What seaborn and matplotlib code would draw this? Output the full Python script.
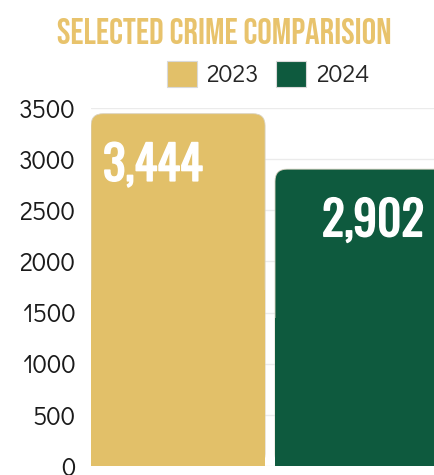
import matplotlib
matplotlib.use("Agg")

import pandas as pd
import seaborn as sns
import matplotlib.pyplot as plt
import matplotlib.patheffects as pe
from matplotlib.patches import FancyBboxPatch, Rectangle

# ===============================
# data
# ===============================
years = ['2023', '2024']
crimes = [3444, 2902]
bar_colors = ['#E2C069', '#0E5A3E']
y_ticks = [0, 500, 1000, 1500, 2000, 2500, 3000, 3500]

df = pd.DataFrame({'year': years, 'crimes': crimes})

sns.set_style('white')
plt.rcParams['font.family'] = ['Didact Gothic', 'DejaVu Sans']

fig = plt.figure(figsize=(4.34, 4.75), dpi=100)
ax = fig.add_axes([0.2097, 0.019, 0.7903, 0.7537])

sns.barplot(
    ax=ax,
    data=df,
    x='year',
    y='crimes',
    hue='year',
    palette=bar_colors,
    width=0.946,
    legend=False,
)

ax.set_ylim(0, 3500)
ax.set_xlim(-0.473, 1.391)
ax.set_yticks(y_ticks)
ax.set_yticklabels([str(t) for t in y_ticks], fontsize=18.5, color='#1a1a1a')
ax.tick_params(axis='y', length=0, pad=11)
ax.set_xticks([])
ax.set_xlabel('')
ax.set_ylabel('')
for s in ax.spines.values():
    s.set_visible(False)
ax.grid(axis='y', color='#ebebeb', linewidth=1)
ax.set_axisbelow(True)

# rounded top corners: redraw each bar
radius = 0.065
aspect = 1800
label_offsets = [0.065, 0.255]
handles = []
for patch, col, val, off in zip(ax.patches, bar_colors, crimes, label_offsets):
    x0, w, h = patch.get_x(), patch.get_width(), patch.get_height()
    patch.set_visible(False)
    rb = FancyBboxPatch((x0, 0), w, h,
                        boxstyle=f'round,pad=0,rounding_size={radius}',
                        mutation_aspect=aspect,
                        facecolor=col, edgecolor='#d9d2c0', linewidth=0.6,
                        zorder=3)
    ax.add_patch(rb)
    ax.add_patch(Rectangle((x0, 0), w, h * 0.5, facecolor=col,
                           edgecolor='none', zorder=3))
    ax.text(x0 + off, h - 275, f'{val:,}',
            fontsize=34, color='white',
            family='Oswald', ha='left', va='top', zorder=4,
            path_effects=[pe.withStroke(linewidth=1.1, foreground='white')])
    handles.append(Rectangle((0, 0), 1, 1, facecolor=col, edgecolor='#d9d9d9',
                             linewidth=0.8))

fig.legend(handles, years, loc='center', bbox_to_anchor=(0.618, 0.844),
           ncol=2, frameon=False, fontsize=18, handlelength=1.2,
           handleheight=1.2, handletextpad=0.4, columnspacing=0.7)

fig.text(0.517, 0.935, 'SELECTED CRIME COMPARISION',
         fontsize=26, color='#E8C36C',
         family='Bebas Neue', ha='center', va='center')

plt.savefig('out.png', dpi=100)
plt.close()
